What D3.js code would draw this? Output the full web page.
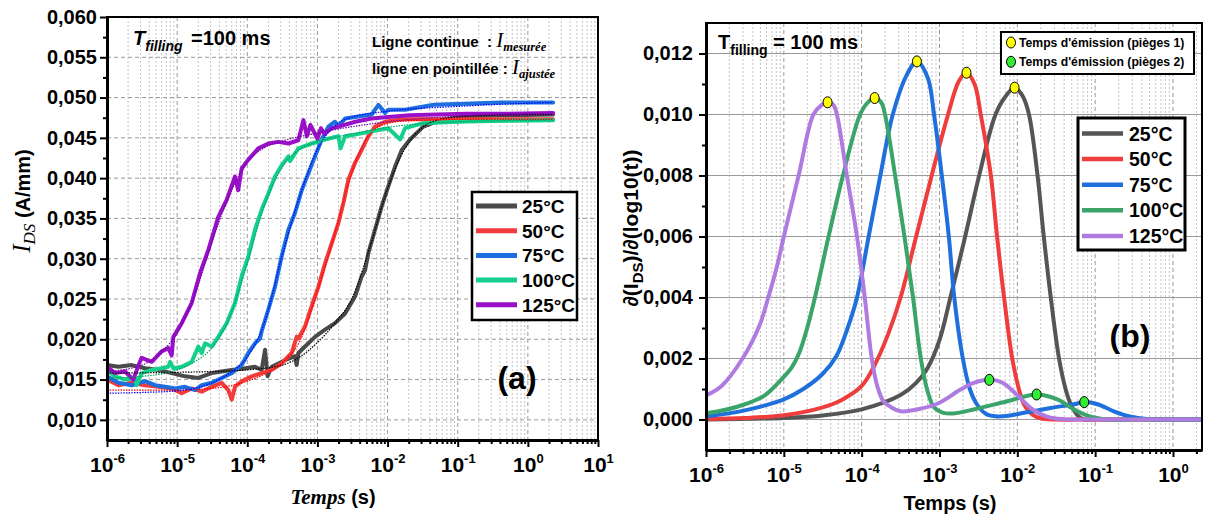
<!DOCTYPE html>
<html><head><meta charset="utf-8">
<script src="https://cdn.jsdelivr.net/npm/d3@7"></script>
<style>
body{margin:0;background:#fff;}
svg{display:block;font-family:Arial,"Liberation Sans",sans-serif;}
</style></head><body>
<svg id="c" width="1205" height="519"></svg>
<script>
// ===================== DATA =====================
const seriesNames = ["25°C", "50°C", "75°C", "100°C", "125°C"];
const colorsA = ["#4a4a4a", "#f23b3b", "#1d6fe0", "#14d08c", "#9a0fc8"];
const fitColorsA = ["#000000", "#ff0000", "#0000ff", "#00a060", "#7000a0"];
const colorsB = ["#555555", "#ef3d3d", "#1f6fdc", "#3aa46a", "#b07be0"];

// Panel (a): measured I_DS (A/mm) vs log10(time in s)
const m25_t = [-6.0,-5.838,-5.648,-5.458,-5.268,-5.078,-4.888,-4.698,-4.508,-4.365,-4.222,-4.032,-3.89,-3.795,-3.747,-3.71,-3.652,-3.462,-3.319,-3.296,-3.272,-3.177,-3.034,-2.892,-2.749,-2.606,-2.464,-2.369,-2.32,-2.274,-2.179,-2.084,-1.989,-1.894,-1.798,-1.68,-1.49,-1.25,-0.96,-0.39,0.36];
const m25_v = [0.0168,0.0166,0.0168,0.0164,0.0162,0.0158,0.0154,0.0152,0.0158,0.0160,0.0162,0.0164,0.0166,0.0162,0.0187,0.0154,0.0166,0.0174,0.0179,0.0168,0.0183,0.0191,0.0203,0.0212,0.0220,0.0232,0.0253,0.0278,0.0286,0.0307,0.0336,0.0365,0.0390,0.0414,0.0435,0.0448,0.0464,0.0472,0.0476,0.0478,0.0479];
const m50_t = [-6.0,-5.838,-5.648,-5.458,-5.268,-5.078,-4.935,-4.793,-4.65,-4.508,-4.365,-4.27,-4.222,-4.175,-4.08,-3.937,-3.795,-3.652,-3.51,-3.367,-3.296,-3.272,-3.177,-3.082,-2.987,-2.892,-2.797,-2.702,-2.63,-2.559,-2.464,-2.369,-2.274,-2.179,-2.036,-1.894,-1.751,-1.0,0.36];
const m50_v = [0.0150,0.0143,0.0146,0.0143,0.0141,0.0139,0.0133,0.0139,0.0135,0.0141,0.0146,0.0137,0.0125,0.0141,0.0148,0.0154,0.0158,0.0162,0.0170,0.0183,0.0203,0.0201,0.0216,0.0241,0.0265,0.0294,0.0319,0.0344,0.0369,0.0398,0.0419,0.0435,0.0452,0.0464,0.0470,0.0472,0.0473,0.0473,0.0473];
const m75_t = [-6.0,-5.838,-5.648,-5.458,-5.316,-5.173,-5.03,-4.888,-4.745,-4.65,-4.508,-4.365,-4.222,-4.08,-3.985,-3.89,-3.818,-3.795,-3.7,-3.605,-3.51,-3.414,-3.319,-3.224,-3.129,-3.034,-2.939,-2.844,-2.749,-2.702,-2.606,-2.464,-2.226,-2.131,-2.036,-1.989,-1.751,-1.34,-0.39,0.36];
const m75_v = [0.0154,0.0146,0.0143,0.0148,0.0143,0.0141,0.0139,0.0141,0.0137,0.0143,0.0146,0.0152,0.0158,0.0168,0.0183,0.0195,0.0201,0.0210,0.0237,0.0265,0.0303,0.0336,0.0357,0.0385,0.0406,0.0427,0.0448,0.0464,0.0470,0.0464,0.0474,0.0476,0.0479,0.0491,0.0481,0.0485,0.0485,0.0491,0.0494,0.0494];
const m100_t = [-6.0,-5.886,-5.743,-5.601,-5.58,-5.506,-5.363,-5.221,-5.125,-5.1,-5.054,-4.935,-4.793,-4.698,-4.65,-4.603,-4.508,-4.413,-4.294,-4.175,-4.08,-3.985,-3.89,-3.795,-3.7,-3.605,-3.51,-3.414,-3.391,-3.272,-3.082,-2.892,-2.702,-2.67,-2.606,-2.464,-2.226,-1.989,-1.82,-1.751,-1.5,-1.0,-0.5,0.36];
const m100_v = [0.0162,0.0154,0.0150,0.0152,0.0143,0.0158,0.0162,0.0164,0.0166,0.0172,0.0164,0.0166,0.0172,0.0191,0.0183,0.0195,0.0191,0.0203,0.0220,0.0245,0.0278,0.0303,0.0336,0.0361,0.0381,0.0402,0.0416,0.0427,0.0421,0.0437,0.0443,0.0448,0.0452,0.0437,0.0452,0.0454,0.0458,0.0462,0.0448,0.0462,0.0468,0.0470,0.0471,0.0472];
const m125_t = [-6.0,-5.886,-5.743,-5.625,-5.55,-5.506,-5.363,-5.221,-5.125,-5.078,-5.054,-4.935,-4.793,-4.674,-4.555,-4.413,-4.294,-4.175,-4.13,-4.08,-3.985,-3.842,-3.7,-3.557,-3.414,-3.272,-3.2,-3.15,-3.1,-3.0,-2.95,-2.9,-2.8,-2.7,-2.46,-2.23,-1.99,-1.68,-1.3,-0.87,-0.3,0.36];
const m125_v = [0.0166,0.0158,0.0160,0.0150,0.0168,0.0177,0.0172,0.0185,0.0189,0.0180,0.0203,0.0220,0.0245,0.0282,0.0311,0.0352,0.0373,0.0402,0.0385,0.0412,0.0423,0.0437,0.0443,0.0445,0.0443,0.0447,0.0472,0.0452,0.0466,0.0449,0.0462,0.0455,0.0462,0.0464,0.0470,0.0474,0.0476,0.0478,0.0479,0.0480,0.0480,0.0481];

// Panel (a): fitted I_DS (dotted)
const f25_t = [-6,-5,-4.5,-4,-3.5,-3.25,-3,-2.75,-2.5,-2.25,-2,-1.75,-1.5,-1.25,-1,-0.5,0.36];
const f25_v = [0.0158,0.0159,0.0160,0.0162,0.0168,0.0178,0.0196,0.0220,0.0252,0.0315,0.0387,0.0437,0.0463,0.0473,0.0476,0.0478,0.0479];
const f50_t = [-6,-5,-4.5,-4,-3.75,-3.5,-3.25,-3,-2.75,-2.5,-2.25,-2,-1.75,-1.5,-1,0.36];
const f50_v = [0.0137,0.0137,0.0139,0.0148,0.0157,0.0171,0.0198,0.0260,0.0332,0.0410,0.0455,0.0468,0.0471,0.0472,0.0473,0.0473];
const f75_t = [-6,-5.5,-5,-4.5,-4.25,-4,-3.75,-3.5,-3.25,-3,-2.75,-2.5,-2,-1,0.36];
const f75_v = [0.0133,0.0134,0.0136,0.0146,0.0158,0.0178,0.0222,0.0305,0.0378,0.0436,0.0465,0.0476,0.0483,0.0489,0.0494];
const f100_t = [-6,-5.5,-5,-4.75,-4.5,-4.25,-4,-3.75,-3.5,-3.25,-3,-2.5,-2,-1,0.36];
const f100_v = [0.0152,0.0154,0.0162,0.0172,0.0190,0.0228,0.0295,0.0368,0.0414,0.0436,0.0445,0.0455,0.0463,0.0470,0.0472];
const f125_t = [-6,-5.5,-5.25,-5,-4.75,-4.5,-4.25,-4,-3.75,-3.5,-3,-2,-1,0.36];
const f125_v = [0.0160,0.0168,0.0182,0.0208,0.0255,0.0322,0.0380,0.0420,0.0438,0.0446,0.0456,0.0470,0.0477,0.0481];

// Panel (b): dI_DS / dlog10(t) vs log10(time)
const d25_t = [-6,-5,-4.5,-4,-3.5,-3.3,-3.15,-3.0,-2.86,-2.67,-2.49,-2.28,-2.15,-2.035,-1.93,-1.85,-1.74,-1.66,-1.57,-1.464,-1.38,-1.314,-1.22,-1.14,-1.0,-0.5,0.37];
const d25_v = [0,0.00005,0.00013,0.00033,0.0008,0.0012,0.0017,0.0026,0.004,0.006,0.008,0.010,0.0106,0.01088,0.0106,0.010,0.008,0.006,0.004,0.002,0.001,0.0005,0.00012,0,0,0,0];
const d50_t = [-6,-5.5,-5,-4.5,-4.25,-4,-3.83,-3.66,-3.5,-3.3,-3.1,-2.89,-2.75,-2.653,-2.55,-2.47,-2.34,-2.26,-2.17,-2.065,-1.98,-1.915,-1.8,-1.7,-1.5,-1.0,0.37];
const d50_v = [0.00002,0.00005,0.00014,0.0004,0.00065,0.0011,0.0018,0.0028,0.004,0.006,0.008,0.010,0.0111,0.01137,0.0110,0.010,0.008,0.006,0.004,0.002,0.001,0.0005,0.00015,0.00004,0,0,0];
const d75_t = [-6,-5.5,-5,-4.75,-4.5,-4.32,-4.18,-4.06,-3.91,-3.76,-3.6,-3.42,-3.29,-3.15,-3.07,-2.97,-2.88,-2.81,-2.70,-2.61,-2.52,-2.4,-2.26,-2.1,-1.915,-1.57,-1.27,-1.14,-0.97,-0.76,-0.54,-0.33,0.0,0.37];
const d75_v = [0.0001,0.0003,0.00066,0.001,0.0015,0.0021,0.003,0.004,0.006,0.008,0.010,0.0113,0.01174,0.0112,0.010,0.008,0.006,0.004,0.002,0.001,0.0005,0.00018,0.0001,0.00013,0.00022,0.00038,0.0005,0.00057,0.0005,0.00027,0.00009,0.00002,0,0];
const d100_t = [-6,-5.75,-5.5,-5.25,-5.0,-4.9,-4.8,-4.7,-4.6,-4.425,-4.24,-4.02,-3.92,-3.833,-3.75,-3.70,-3.57,-3.45,-3.34,-3.24,-3.15,-3.07,-2.95,-2.82,-2.56,-2.13,-1.752,-1.486,-1.27,-1.057,-0.84,-0.5,0.37];
const d100_v = [0.0002,0.00032,0.0005,0.00078,0.0014,0.0017,0.0022,0.003,0.004,0.006,0.008,0.010,0.0104,0.01054,0.0104,0.010,0.008,0.006,0.004,0.002,0.0009,0.0004,0.00022,0.0002,0.00033,0.0006,0.00082,0.00066,0.00033,0.00009,0,0,0];
const d125_t = [-6,-5.8,-5.53,-5.31,-5.2,-5.09,-5.0,-4.81,-4.62,-4.52,-4.438,-4.36,-4.318,-4.19,-4.06,-3.96,-3.87,-3.8,-3.72,-3.62,-3.5,-3.25,-3.0,-2.73,-2.56,-2.36,-2.2,-2.0,-1.8,-1.6,-1.4,-1.2,-0.8,0.37];
const d125_v = [0.00079,0.0011,0.002,0.0031,0.004,0.005,0.006,0.008,0.010,0.0103,0.0104,0.0103,0.010,0.008,0.006,0.004,0.002,0.0011,0.0006,0.0004,0.00027,0.00035,0.00055,0.00098,0.0012,0.0013,0.00122,0.0008,0.00032,0.00008,0.00001,0,0,0];

// Emission-time markers
const trap1_t = [-2.035, -2.653, -3.29, -3.833, -4.438];
const trap1_v = [0.01088, 0.01137, 0.01174, 0.01054, 0.0104];
const trap2_t = [-1.14, -1.752, -2.36];
const trap2_v = [0.00057, 0.00082, 0.0013];

// Tick values
const yTicksA = [0.010,0.015,0.020,0.025,0.030,0.035,0.040,0.045,0.050,0.055,0.060];
const yTicksB = [0.000,0.002,0.004,0.006,0.008,0.010,0.012];
const expA = [-6,-5,-4,-3,-2,-1,0,1];
const expB = [-6,-5,-4,-3,-2,-1,0];

// ===================== DRAW =====================
const svg = d3.select("#c");
const pow = x => Math.pow(10, x);
const zip = (t, v) => t.slice(0, Math.min(t.length, v.length)).map((x, i) => [x, v[i]]);
const fmt = d => d3.format(".3f")(d).replace(".", ",");

function panel(o) {
  const {x0, x1, y0, y1, xs, ys, exps, yTicks, yMinor, gridH, fsY, fsX, labBase, tickPad, id} = o;
  const decs = exps.map(pow);
  const minors = [];
  exps.forEach(e => d3.range(2, 10).forEach(m => { const v = m * pow(e); if (v < xs.domain()[1]) minors.push(v); }));
  const g = svg.append("g");
  g.selectAll(".gmin").data(minors).join("line")
    .attr("x1", d => xs(d)).attr("x2", d => xs(d)).attr("y1", y0).attr("y2", y1)
    .attr("stroke", "#c4c4c4").attr("stroke-width", 1).attr("stroke-dasharray", "2,2");
  g.selectAll(".gmaj").data(decs.slice(1).filter(d => xs(d) < x1 - 1)).join("line")
    .attr("x1", d => xs(d)).attr("x2", d => xs(d)).attr("y1", y0).attr("y2", y1)
    .attr("stroke", "#9a9a9a").attr("stroke-width", 1).attr("stroke-dasharray", "4,3");
  g.selectAll(".gh").data(yTicks).join("line")
    .attr("x1", x0).attr("x2", x1).attr("y1", d => ys(d)).attr("y2", d => ys(d))
    .attr("stroke", "#999").attr("stroke-width", 1).attr("stroke-dasharray", gridH);
  svg.append("clipPath").attr("id", id).append("rect").attr("x", x0).attr("y", y0).attr("width", x1 - x0).attr("height", y1 - y0);
  const plot = svg.append("g").attr("clip-path", `url(#${id})`);
  const axG = svg.append("g");
  const gx = axG.append("g").attr("transform", `translate(0,${y1})`)
    .call(d3.axisBottom(xs).tickValues(decs).tickSize(7).tickSizeOuter(0).tickFormat(""));
  gx.selectAll(".tick").each(function(e, i) {
    const t = d3.select(this).append("text").attr("y", labBase - y1).attr("fill", "#000")
      .attr("text-anchor", "middle").attr("font-weight", "bold").attr("font-size", fsX)
      .attr("font-family", "Arial, 'Liberation Sans', sans-serif");
    t.append("tspan").text("10");
    t.append("tspan").attr("dy", -fsX * 0.45).attr("font-size", fsX * 0.62).text(exps[i]);
  });
  const gxm = axG.append("g").attr("transform", `translate(0,${y1})`)
    .call(d3.axisBottom(xs).tickValues(minors).tickSize(4).tickSizeOuter(0).tickFormat(""));
  gxm.select(".domain").remove();
  const gy = axG.append("g").attr("transform", `translate(${x0},0)`)
    .call(d3.axisLeft(ys).tickValues(yTicks).tickSize(7).tickPadding(tickPad).tickSizeOuter(0).tickFormat(fmt));
  gy.selectAll("text").attr("font-size", fsY).attr("font-weight", "bold").attr("fill", "#000")
    .attr("font-family", "Arial, 'Liberation Sans', sans-serif");
  const gym = axG.append("g").attr("transform", `translate(${x0},0)`)
    .call(d3.axisLeft(ys).tickValues(yMinor).tickSize(4).tickSizeOuter(0).tickFormat(""));
  gym.select(".domain").remove();
  axG.selectAll(".tick line").attr("stroke", "#000").attr("stroke-width", 2);
  axG.append("rect").attr("x", x0).attr("y", y0).attr("width", x1 - x0).attr("height", y1 - y0)
    .attr("fill", "none").attr("stroke", "#000").attr("stroke-width", 2);
  axG.selectAll(".domain").attr("stroke", "#000").attr("stroke-width", 3);
  return {plot, axG};
}

// ---------- Panel (a) ----------
const A = {x0: 107, x1: 598, y0: 17, y1: 440};
const xa = d3.scaleLog().domain([1e-6, 10]).range([A.x0, A.x1]);
const ya = d3.scaleLinear().domain([0.0075, 0.060]).range([A.y1, A.y0]);
const yMinorA = d3.range(0, 11).map(i => 0.0125 + i * 0.005).filter(v => v < 0.06);
const pa = panel({x0: A.x0, x1: A.x1, y0: A.y0, y1: A.y1, xs: xa, ys: ya, exps: expA,
  yTicks: yTicksA, yMinor: yMinorA, gridH: "4,3", fsY: 20, fsX: 21, labBase: 472, tickPad: 3, id: "clipA"});

const lineA = d3.line().x(d => xa(pow(d[0]))).y(d => ya(d[1]));
const measA = [zip(m25_t, m25_v), zip(m50_t, m50_v), zip(m75_t, m75_v), zip(m100_t, m100_v), zip(m125_t, m125_v)];
const fitA = [zip(f25_t, f25_v), zip(f50_t, f50_v), zip(f75_t, f75_v), zip(f100_t, f100_v), zip(f125_t, f125_v)];
measA.forEach((s, i) => pa.plot.append("path").attr("d", lineA(s)).attr("fill", "none")
  .attr("stroke", colorsA[i]).attr("stroke-width", 4).attr("stroke-linejoin", "round").attr("stroke-linecap", "round"));
const lineFit = d3.line().curve(d3.curveMonotoneX).x(d => xa(pow(d[0]))).y(d => ya(d[1]));
fitA.forEach((s, i) => pa.plot.append("path").attr("d", lineFit(s)).attr("fill", "none")
  .attr("stroke", fitColorsA[i]).attr("stroke-width", 1.2).attr("stroke-dasharray", "1.5,1.2"));

// ---------- Panel (b) ----------
const B = {x0: 706, x1: 1202, y0: 23, y1: 450};
const xb = d3.scaleLog().domain([1e-6, pow(0.373)]).range([B.x0, B.x1]);
const yb = d3.scaleLinear().domain([-0.001, 0.013]).range([B.y1, B.y0]);
const yMinorB = [0.001, 0.003, 0.005, 0.007, 0.009, 0.011];
const pb = panel({x0: B.x0, x1: B.x1, y0: B.y0, y1: B.y1, xs: xb, ys: yb, exps: expB,
  yTicks: yTicksB, yMinor: yMinorB, gridH: null, fsY: 20, fsX: 21, labBase: 482, tickPad: 6, id: "clipB"});

const lineB = d3.line().curve(d3.curveCatmullRom.alpha(0.5)).x(d => xb(pow(d[0]))).y(d => yb(d[1]));
const derB = [zip(d25_t, d25_v), zip(d50_t, d50_v), zip(d75_t, d75_v), zip(d100_t, d100_v), zip(d125_t, d125_v)];
derB.forEach((s, i) => pb.plot.append("path").attr("d", lineB(s)).attr("fill", "none")
  .attr("stroke", colorsB[i]).attr("stroke-width", 4).attr("stroke-linejoin", "round"));
pb.plot.selectAll(".t1").data(zip(trap1_t, trap1_v)).join("ellipse")
  .attr("cx", d => xb(pow(d[0]))).attr("cy", d => yb(d[1])).attr("rx", 4.5).attr("ry", 5.5)
  .attr("fill", "#ffff00").attr("stroke", "#000").attr("stroke-width", 1);
pb.plot.selectAll(".t2").data(zip(trap2_t, trap2_v)).join("ellipse")
  .attr("cx", d => xb(pow(d[0]))).attr("cy", d => yb(d[1])).attr("rx", 4.5).attr("ry", 5.5)
  .attr("fill", "#33ee33").attr("stroke", "#000").attr("stroke-width", 1);

// ---------- Texts panel (a) ----------
const tA = svg.append("text").attr("x", 133).attr("y", 45).attr("font-weight", "bold").attr("font-size", 20);
tA.append("tspan").attr("font-style", "italic").text("T");
tA.append("tspan").attr("font-style", "italic").attr("font-size", 14).attr("dy", 6).text("filling");
svg.append("text").attr("x", 191).attr("y", 45).attr("font-weight", "bold").attr("font-size", 20).text("=100 ms");

function noteLine(x, y, lead, sub) {
  const t = svg.append("text").attr("x", x).attr("y", y).attr("font-weight", "bold").attr("font-size", 15);
  t.append("tspan").text(lead);
  t.append("tspan").attr("font-family", "'Liberation Serif', 'Times New Roman', serif").attr("font-style", "italic")
    .attr("font-weight", "normal").attr("font-size", 21).text("I");
  t.append("tspan").attr("font-family", "'Liberation Serif', 'Times New Roman', serif").attr("font-style", "italic")
    .attr("font-size", 12.5).attr("dy", 4).text(sub);
}
noteLine(372, 47, "Ligne continue\u00a0 : ", "mesurée");
noteLine(372, 74, "ligne en pointillée : ", "ajustée");

const legA = svg.append("g");
legA.append("rect").attr("x", 472).attr("y", 192).attr("width", 105).attr("height", 128)
  .attr("fill", "#fff").attr("stroke", "#000").attr("stroke-width", 2.5);
seriesNames.forEach((n, i) => {
  const y = 206 + i * 24.7;
  legA.append("line").attr("x1", 476).attr("x2", 517).attr("y1", y).attr("y2", y)
    .attr("stroke", colorsA[i]).attr("stroke-width", 5);
  legA.append("text").attr("x", 522).attr("y", y + 7).attr("font-weight", "bold").attr("font-size", 19).text(n);
});
svg.append("text").attr("x", 517).attr("y", 389).attr("text-anchor", "middle").attr("font-weight", "bold")
  .attr("font-size", 32).text("(a)");

const yta = svg.append("text").attr("transform", "translate(30,201) rotate(-90)").attr("text-anchor", "middle");
yta.append("tspan").attr("font-family", "'Liberation Serif', 'Times New Roman', serif").attr("font-style", "italic")
  .attr("font-size", 25).text("I");
yta.append("tspan").attr("font-family", "'Liberation Serif', 'Times New Roman', serif").attr("font-style", "italic")
  .attr("font-size", 17).attr("dy", 5).text("DS");
yta.append("tspan").attr("font-weight", "bold").attr("font-size", 20).attr("dy", -5).text(" (A/mm)");
const xta = svg.append("text").attr("x", 333).attr("y", 504).attr("text-anchor", "middle");
xta.append("tspan").attr("font-family", "'Liberation Serif', 'Times New Roman', serif").attr("font-style", "italic")
  .attr("font-weight", "bold").attr("font-size", 21).text("Temps");
xta.append("tspan").attr("font-weight", "bold").attr("font-size", 20).text(" (s)");

// ---------- Texts panel (b) ----------
const tB = svg.append("text").attr("x", 718).attr("y", 49).attr("font-weight", "bold").attr("font-size", 20);
tB.append("tspan").text("T");
tB.append("tspan").attr("font-size", 14).attr("dy", 6).text("filling");
tB.append("tspan").attr("dy", -6).text(" = 100 ms");

const legB1 = svg.append("g");
legB1.append("rect").attr("x", 1001).attr("y", 32).attr("width", 193).attr("height", 42)
  .attr("fill", "#fff").attr("stroke", "#000").attr("stroke-width", 2);
[["#ffff00", "Temps d'émission (pièges 1)"], ["#33ee33", "Temps d'émission (pièges 2)"]].forEach((e, i) => {
  const y = 42.5 + i * 19.3;
  legB1.append("ellipse").attr("cx", 1011).attr("cy", y).attr("rx", 4.5).attr("ry", 5.5)
    .attr("fill", e[0]).attr("stroke", "#000").attr("stroke-width", 1);
  legB1.append("text").attr("x", 1019).attr("y", y + 4.5).attr("font-weight", "bold").attr("font-size", 12.2).text(e[1]);
});

const legB = svg.append("g");
legB.append("rect").attr("x", 1078).attr("y", 118).attr("width", 107).attr("height", 132)
  .attr("fill", "#fff").attr("stroke", "#000").attr("stroke-width", 3);
seriesNames.forEach((n, i) => {
  const y = 133.5 + i * 25.6;
  legB.append("line").attr("x1", 1082).attr("x2", 1123).attr("y1", y).attr("y2", y)
    .attr("stroke", colorsB[i]).attr("stroke-width", 4.5);
  legB.append("text").attr("x", 1129).attr("y", y + 7).attr("font-weight", "bold").attr("font-size", 19.5).text(n);
});
svg.append("text").attr("x", 1130).attr("y", 347).attr("text-anchor", "middle").attr("font-weight", "bold")
  .attr("font-size", 32).text("(b)");

const ytb = svg.append("text").attr("transform", "translate(638,228) rotate(-90)").attr("text-anchor", "middle")
  .attr("font-weight", "bold").attr("font-size", 21);
ytb.append("tspan").text("∂(I");
ytb.append("tspan").attr("font-size", 15).attr("dy", 5).text("DS");
ytb.append("tspan").attr("dy", -5).text(")/∂(log10(t))");
svg.append("text").attr("x", 950).attr("y", 510).attr("text-anchor", "middle").attr("font-weight", "bold")
  .attr("font-size", 20).text("Temps (s)");
</script>
</body></html>
